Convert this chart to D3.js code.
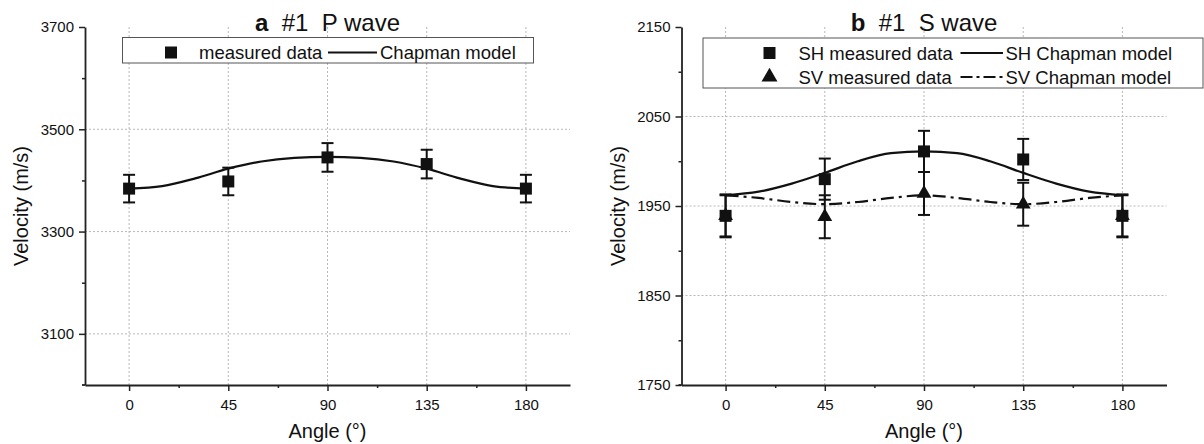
<!DOCTYPE html>
<html>
<head>
<meta charset="utf-8">
<script src="https://cdn.jsdelivr.net/npm/d3@7"></script>
<style>
  html, body { margin: 0; padding: 0; background: #fff; }
  svg { display: block; font-family: "Liberation Sans", Arial, sans-serif; }
  text { white-space: pre; }
</style>
</head>
<body>
<svg id="chart" width="1204" height="444"></svg>
<script>
// ---- data ----
const angles = [0, 45, 90, 135, 180];
const angleTicks = [0, 45, 90, 135, 180];
const angleMinorTicks = [22.5, 67.5, 112.5, 157.5];

const pMeasured = [3384, 3398, 3445, 3432, 3384];
const pError = [27, 27, 28, 28, 27];

const modelAngles = [0, 15, 30, 45, 60, 75, 90, 105, 120, 135, 150, 165, 180];
const pModel = [3384, 3389, 3404, 3423, 3437, 3444, 3446, 3444, 3437, 3423, 3404, 3389, 3384];

const shMeasured = [1939, 1980, 2011, 2002, 1939];
const shError = [23, 23, 23, 23, 23];
const svMeasured = [1939, 1938, 1964, 1952, 1939];
const svError = [24, 24, 24, 24, 24];
const shModel = [1962, 1966, 1975, 1987, 2000, 2009, 2011, 2009, 2000, 1987, 1975, 1966, 1962];
const svModel = [1962, 1959, 1954.5, 1952, 1954.5, 1959, 1962, 1959, 1954.5, 1952, 1954.5, 1959, 1962];

const pTicks = [3100, 3300, 3500, 3700];
const pMinorTicks = [3200, 3400, 3600];
const pGrid = [3100, 3300, 3500];
const sTicks = [1750, 1850, 1950, 2050, 2150];
const sMinorTicks = [1800, 1900, 2000, 2100];
const sGrid = [1850, 1950, 2050];

const svg = d3.select("#chart");
const INK = "#111";
const TOP = 27, BOTTOM = 385;
const fmt = d3.format("d");

function panel(opts) {
  const g = svg.append("g");
  const x = d3.scaleLinear().domain([-20, 200]).range([opts.x0, opts.x1]);
  const y = d3.scaleLinear().domain(opts.yDomain).range([BOTTOM, TOP]);

  // grid
  g.append("g").selectAll("line").data(angleTicks).join("line")
    .attr("x1", d => x(d)).attr("x2", d => x(d))
    .attr("y1", TOP).attr("y2", BOTTOM)
    .attr("stroke", "#b8b8b8").attr("stroke-width", 1).attr("stroke-dasharray", "2,2");
  g.append("g").selectAll("line").data(opts.grid).join("line")
    .attr("x1", opts.x0).attr("x2", opts.x1)
    .attr("y1", d => y(d)).attr("y2", d => y(d))
    .attr("stroke", "#b8b8b8").attr("stroke-width", 1).attr("stroke-dasharray", "2,2");

  // axes
  g.append("g").attr("transform", `translate(0,${BOTTOM})`)
    .call(d3.axisBottom(x).tickValues(angleTicks).tickFormat(fmt).tickSize(6).tickPadding(8.5).tickSizeOuter(0));
  g.append("g").attr("transform", `translate(0,${BOTTOM})`)
    .call(d3.axisBottom(x).tickValues(angleMinorTicks).tickSize(3).tickFormat("").tickSizeOuter(0))
    .select(".domain").remove();
  g.append("g").attr("transform", `translate(${opts.x0},0)`)
    .call(d3.axisLeft(y).tickValues(opts.ticks).tickFormat(fmt).tickSize(6).tickPadding(5).tickSizeOuter(0));
  g.append("g").attr("transform", `translate(${opts.x0},0)`)
    .call(d3.axisLeft(y).tickValues(opts.minor).tickSize(3).tickFormat("").tickSizeOuter(0))
    .select(".domain").remove();
  g.selectAll(".domain").attr("stroke", "#222").attr("stroke-width", 1.8);
  g.selectAll(".tick line").attr("stroke", "#222").attr("stroke-width", 1.5);
  g.selectAll(".tick text").attr("font-size", 15).attr("fill", INK)
    .attr("font-family", "Liberation Sans, Arial, sans-serif");
  g.append("line").attr("x1", opts.x0 - 3).attr("x2", opts.x0)
    .attr("y1", BOTTOM).attr("y2", BOTTOM).attr("stroke", "#222").attr("stroke-width", 1.8);

  // axis titles
  g.append("text").attr("x", x(90)).attr("y", 438).attr("text-anchor", "middle")
    .attr("font-size", 20).attr("fill", INK).text("Angle (°)");
  g.append("text").attr("transform", `translate(${opts.x0 - 57},${(TOP + BOTTOM) / 2}) rotate(-90)`)
    .attr("text-anchor", "middle").attr("font-size", 20).attr("fill", INK).text("Velocity (m/s)");

  // title
  const t = g.append("text").attr("x", x(90)).attr("y", 31).attr("text-anchor", "middle")
    .attr("font-size", 24).attr("fill", INK);
  t.append("tspan").attr("font-weight", "bold").text(opts.letter);
  t.append("tspan").text("  #1  " + opts.title);

  return { g, x, y };
}

function series(p, values, errors, shape) {
  const eb = p.g.append("g");
  angles.forEach((a, i) => {
    const cx = p.x(a), hi = p.y(values[i] + errors[i]), lo = p.y(values[i] - errors[i]);
    eb.append("line").attr("x1", cx).attr("x2", cx).attr("y1", hi).attr("y2", lo)
      .attr("stroke", INK).attr("stroke-width", 2);
    [hi, lo].forEach(yy => eb.append("line").attr("x1", cx - 6).attr("x2", cx + 6)
      .attr("y1", yy).attr("y2", yy).attr("stroke", INK).attr("stroke-width", 2));
  });
  const sym = shape === "square" ? d3.symbol(d3.symbolSquare, 144) : d3.symbol(d3.symbolTriangle, 95);
  p.g.append("g").selectAll("path").data(values).join("path")
    .attr("transform", (d, i) => `translate(${p.x(angles[i])},${p.y(d)})`)
    .attr("d", sym).attr("fill", INK);
}

function model(p, values, dash) {
  const line = d3.line().x((d, i) => p.x(modelAngles[i])).y(d => p.y(d)).curve(d3.curveMonotoneX);
  p.g.append("path").datum(values).attr("d", line).attr("fill", "none")
    .attr("stroke", INK).attr("stroke-width", 2.2)
    .attr("stroke-dasharray", dash || null);
}

const DASHDOT = "13,5,3,5";

// ---- panel a ----
const pa = panel({ x0: 85, x1: 570, yDomain: [3000, 3700], ticks: pTicks, minor: pMinorTicks, grid: pGrid, letter: "a", title: "P wave" });
model(pa, pModel);
series(pa, pMeasured, pError, "square");

// ---- panel b ----
const pb = panel({ x0: 681.5, x1: 1166.5, yDomain: [1750, 2150], ticks: sTicks, minor: sMinorTicks, grid: sGrid, letter: "b", title: "S wave" });
model(pb, shModel);
model(pb, svModel, DASHDOT);
series(pb, shMeasured, shError, "square");
series(pb, svMeasured, svError, "triangle");

// ---- legends ----
function legendBox(x0, y0, x1, y1) {
  svg.append("rect").attr("x", x0).attr("y", y0).attr("width", x1 - x0).attr("height", y1 - y0)
    .attr("fill", "#fff").attr("stroke", "#555").attr("stroke-width", 1);
}
function legendRow(mx, my, shape, label1, lx0, lx1, dash, label2, tx1, tx2) {
  const sym = shape === "square" ? d3.symbol(d3.symbolSquare, 144) : d3.symbol(d3.symbolTriangle, 110);
  svg.append("path").attr("transform", `translate(${mx},${my})`).attr("d", sym).attr("fill", INK);
  svg.append("text").attr("x", tx1).attr("y", my + 6.5).attr("font-size", 18.5).attr("fill", INK).text(label1);
  svg.append("line").attr("x1", lx0).attr("x2", lx1).attr("y1", my).attr("y2", my)
    .attr("stroke", INK).attr("stroke-width", 2.2).attr("stroke-dasharray", dash || null);
  svg.append("text").attr("x", tx2).attr("y", my + 6.5).attr("font-size", 18.5).attr("fill", INK).text(label2);
}
legendBox(122.5, 37.5, 533.5, 63);
legendRow(171, 52.5, "square", "measured data", 328, 377, null, "Chapman model", 199, 380);

legendBox(703, 38, 1203, 88);
legendRow(769.5, 53, "square", "SH measured data", 960.5, 1003, null, "SH Chapman model", 798.5, 1005.5);
legendRow(769.5, 77, "triangle", "SV measured data", 960.5, 1003, "12,4,3,4", "SV Chapman model", 798.5, 1005.5);
</script>
</body>
</html>
